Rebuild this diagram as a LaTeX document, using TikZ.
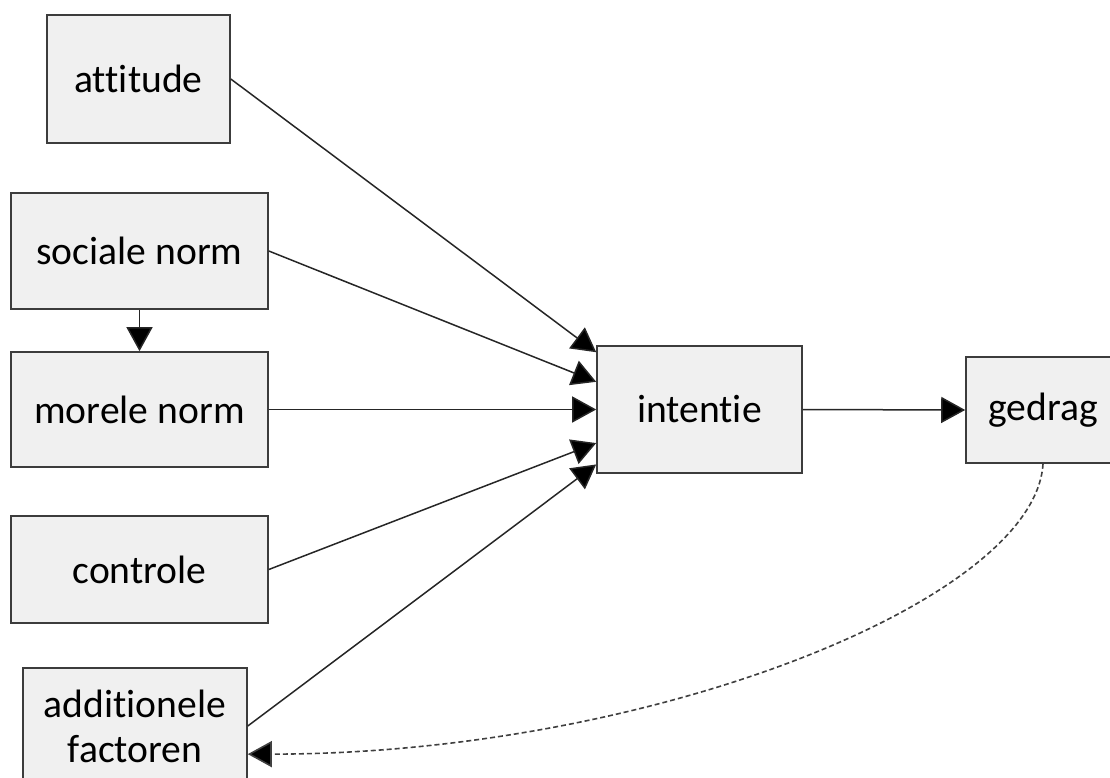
\documentclass[tikz,border=0pt]{standalone}
\usepackage{fontspec}
\setmainfont{Carlito}[Ligatures=NoCommon]
\usetikzlibrary{arrows.meta}
\definecolor{boxfill}{HTML}{F0F0F0}
\definecolor{boxline}{HTML}{3C3C3C}
\definecolor{dashline}{HTML}{404040}
\begin{document}
\begin{tikzpicture}[x=1pt, y=-1pt,
  factor/.style={draw=boxline, fill=boxfill, line width=1.6pt, inner sep=0pt,
    align=center, font=\fontsize{39.6}{45}\selectfont},
  link/.style={line width=1.5pt, draw=black!85, -{Triangle[length=24pt,width=26pt,fill=black]}},
  feedback/.style={line width=1.6pt, draw=dashline, dash pattern=on 5pt off 3pt,
    -{Triangle[length=24pt,width=26pt,fill=black]}}]
\useasboundingbox (0,0) rectangle (1110,778);
\clip (0,0) rectangle (1110,778);
\node[factor, minimum width=183pt, minimum height=128pt] (attitude) at (138.5,79) {attitude};
\node[factor, minimum width=257pt, minimum height=116pt] (sociale) at (139.5,251) {sociale norm};
\node[factor, minimum width=257pt, minimum height=115pt] (morele) at (139.5,409.5) {morele norm};
\node[factor, minimum width=257pt, minimum height=107pt] (controle) at (139.5,569.5) {controle};
\node[factor, minimum width=224pt, minimum height=116pt] (addfac) at (135,726) {additionele\\factoren};
\node[factor, minimum width=205pt, minimum height=127pt] (intentie) at (699.5,409.5) {intentie};
\node[factor, minimum width=154pt, minimum height=106pt] (gedrag) at (1043,410) {gedrag};
\draw[link] (attitude.east) -- (intentie.151);
\draw[link] (sociale.east) -- (intentie.165.5);
\draw[link] (morele.east) -- (intentie.west);
\draw[link] (controle.east) -- (intentie.198);
\draw[link] (addfac.east) -- (intentie.208.4);
\draw[link] (sociale.south) -- (morele.north);
\draw[link] (intentie.east) -- (gedrag.west);
\draw[feedback] (gedrag.south) .. controls +(-8,137) and +(400,0) .. (addfac.-14);
\end{tikzpicture}
\end{document}
